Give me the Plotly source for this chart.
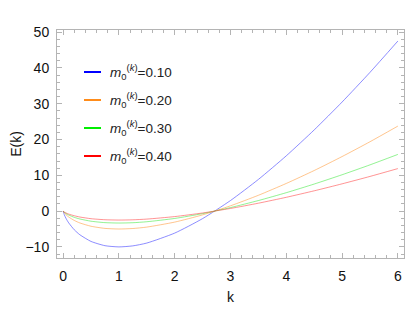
import plotly.graph_objects as go

k = [0, 0.02, 0.05, 0.1, 0.2, 0.3, 0.5, 0.75, 1.0, 1.25, 1.5, 2.0, 2.5, 3.0, 3.5, 4.0, 4.5, 5.0, 5.5, 6.0]
E_m010 = [0, -0.98, -2.00, -3.30, -5.22, -6.61, -8.47, -9.66, -10.0, -9.71, -8.92, -6.14, -2.09, 2.96, 8.85, 15.45, 22.68, 30.47, 38.76, 47.51]
E_m020 = [0, -0.49, -1.00, -1.65, -2.61, -3.31, -4.23, -4.83, -5.0, -4.86, -4.46, -3.07, -1.05, 1.48, 4.42, 7.73, 11.34, 15.24, 19.38, 23.75]
E_m030 = [0, -0.33, -0.67, -1.10, -1.74, -2.20, -2.82, -3.22, -3.33, -3.24, -2.97, -2.05, -0.70, 0.99, 2.95, 5.15, 7.56, 10.16, 12.92, 15.84]
E_m040 = [0, -0.25, -0.50, -0.83, -1.30, -1.65, -2.12, -2.41, -2.5, -2.43, -2.23, -1.53, -0.52, 0.74, 2.21, 3.86, 5.67, 7.62, 9.69, 11.88]

series = [E_m010, E_m020, E_m030, E_m040]
labels = ["0.10", "0.20", "0.30", "0.40"]
colors = ["#0000ff", "#ff8c1a", "#00ee00", "#ff0000"]
line_colors = ["rgba(80,80,255,0.65)", "rgba(255,150,50,0.55)", "rgba(40,230,40,0.5)", "rgba(255,60,60,0.55)"]

x_ticks = [0, 1, 2, 3, 4, 5, 6]
y_ticks = [-10, 0, 10, 20, 30, 40, 50]

fig = go.Figure()
for ys, lc in zip(series, line_colors):
    fig.add_trace(go.Scatter(x=k, y=ys, mode="lines", line=dict(color=lc, width=1, shape="spline", smoothing=0.6),
                             showlegend=False, hoverinfo="skip"))

W, H = 409, 327
L, R, T, B = 57, 5, 30, 69
pw, ph = W - L - R, H - T - B
def px(x):
    return (x - L) / pw
def py(y):
    return (H - B - y) / ph
rows = [72, 100, 128, 156]
for lab, c, yy in zip(labels, colors, rows):
    fig.add_shape(type="line", xref="paper", yref="paper", x0=px(84), x1=px(101), y0=py(yy), y1=py(yy),
                  line=dict(color=c, width=2))
    fig.add_annotation(xref="paper", yref="paper", x=px(108), y=py(yy), xanchor="left", yanchor="middle",
                       text="<i>m</i><sub>0</sub><sup>(<i>k</i>)</sup>=" + lab, showarrow=False,
                       font=dict(family="Liberation Sans, Arial", size=13.5, color="#222"))

axis_common = dict(showline=True, linecolor="#b4b4b4", linewidth=1, mirror="ticks", ticks="inside",
                   tickcolor="#b4b4b4", ticklen=5, showgrid=False, zeroline=False, automargin=False,
                   tickfont=dict(family="Liberation Sans, Arial", size=14, color="#111"))
fig.update_xaxes(range=[-0.11, 6.11], tickvals=x_ticks, ticklabelstandoff=5,
                 minor=dict(ticks="inside", ticklen=3, tickcolor="#b4b4b4", dtick=0.2),
                 title=dict(text="k", font=dict(family="Liberation Sans, Arial", size=14, color="#111"), standoff=9),
                 **axis_common)
fig.update_yaxes(range=[-13.1, 50.6], tickvals=y_ticks, ticklabelstandoff=4,
                 minor=dict(ticks="inside", ticklen=3, tickcolor="#b4b4b4", dtick=2),
                 title=dict(text="E(k)", font=dict(family="Liberation Sans, Arial", size=14, color="#111"), standoff=0),
                 **axis_common)
fig.update_layout(width=W, height=H, margin=dict(l=L, r=R, t=T, b=B), plot_bgcolor="white",
                  paper_bgcolor="white", showlegend=False)
fig.write_html("out.html", config={"displayModeBar": False},
               post_script="document.body.style.margin='0';document.body.style.overflow='hidden';")
